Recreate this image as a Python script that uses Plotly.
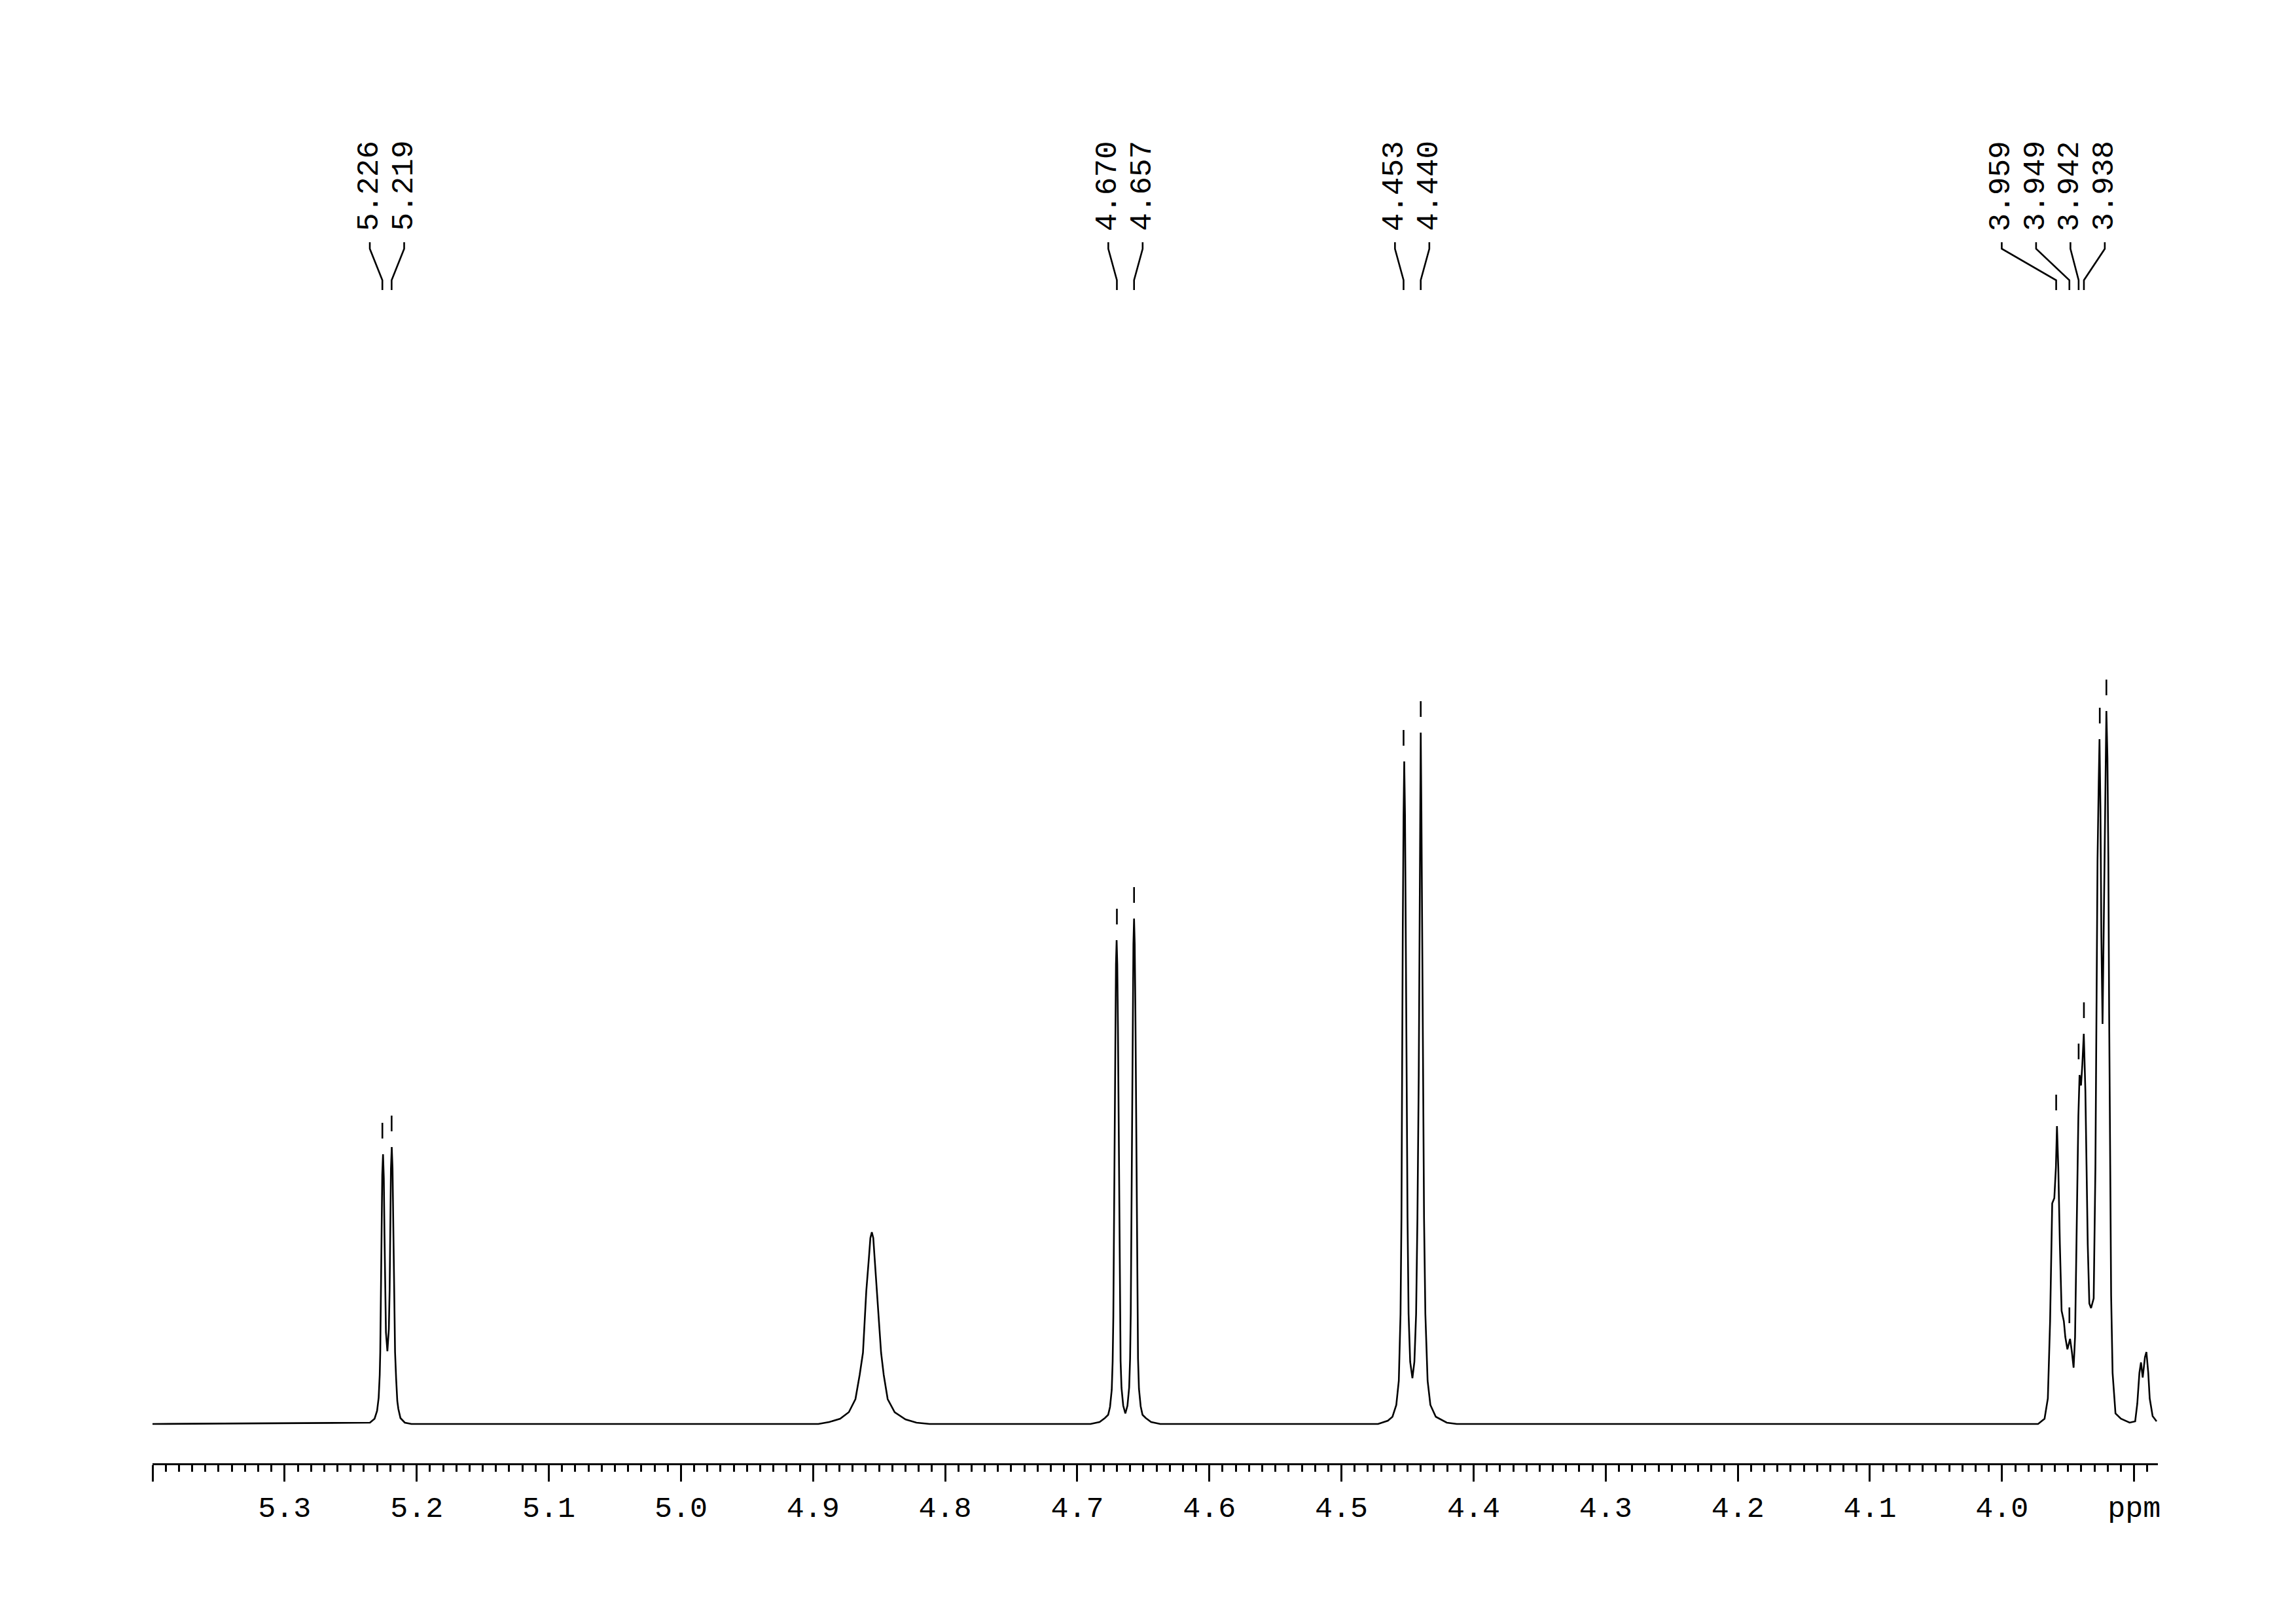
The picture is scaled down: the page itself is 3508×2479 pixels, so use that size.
import plotly.graph_objects as go

# ---------------- data ----------------
# chemical shift (ppm) and intensity (arbitrary units) of the traced spectrum
d1_ppm = [5.2354, 5.2319, 5.2300, 5.2288, 5.2280, 5.2276, 5.2271, 5.2266, 5.2261, 5.2255,
          5.2249, 5.2244, 5.2239, 5.2233, 5.2222, 5.2211, 5.2205, 5.2200, 5.2195, 5.2189,
          5.2183, 5.2177, 5.2171, 5.2164, 5.2156, 5.2147, 5.2139, 5.2123, 5.2090, 5.2040]
d1_int = [2, 8, 20, 40, 75, 110, 194, 300, 380, 412,
          375, 290, 200, 140, 111, 145, 205, 300, 390, 423,
          390, 301, 194, 110, 70, 35, 23, 9, 2, 0]

br_ppm = [4.8960, 4.8877, 4.8795, 4.8729, 4.8679, 4.8647, 4.8622, 4.8610, 4.8597, 4.8577,
          4.8566, 4.8555, 4.8544, 4.8534, 4.8518, 4.8501, 4.8485, 4.8465, 4.8435, 4.8382,
          4.8300, 4.8217, 4.8118]
br_int = [0, 3, 8, 18, 38, 75, 109, 153, 203, 254,
          284, 293, 284, 254, 203, 153, 109, 75, 38, 18,
          7, 2, 0]

d2_ppm = [4.6900, 4.6831, 4.6791, 4.6766, 4.6752, 4.6739, 4.6732, 4.6727, 4.6722, 4.6717,
          4.6712, 4.6707, 4.6702, 4.6697, 4.6692, 4.6687, 4.6682, 4.6677, 4.6672, 4.6665,
          4.6652, 4.6636, 4.6620, 4.6607, 4.6600, 4.6595, 4.6590, 4.6585, 4.6580, 4.6575,
          4.6570, 4.6565, 4.6560, 4.6555, 4.6550, 4.6545, 4.6540, 4.6533, 4.6520, 4.6506,
          4.6481, 4.6441, 4.6372]
d2_int = [0, 3, 9, 14, 26, 52, 96, 163, 296, 458,
          606, 702, 739, 702, 606, 458, 296, 163, 96, 55,
          28, 16, 28, 56, 100, 170, 309, 479, 633, 733,
          772, 733, 633, 479, 309, 170, 100, 54, 27, 14,
          9, 3, 0]

d3_ppm = [4.4723, 4.4649, 4.4614, 4.4585, 4.4566, 4.4553, 4.4546, 4.4542, 4.4536, 4.4530,
          4.4525, 4.4519, 4.4514, 4.4507, 4.4500, 4.4492, 4.4480, 4.4463, 4.4448, 4.4435,
          4.4425, 4.4415, 4.4408, 4.4403, 4.4400, 4.4395, 4.4390, 4.4383, 4.4375, 4.4365,
          4.4348, 4.4327, 4.4286, 4.4203, 4.4127]
d3_int = [0, 5, 11, 29, 66, 168, 315, 534, 754, 930,
          1012, 930, 754, 534, 315, 168, 95, 70, 95, 168,
          315, 534, 754, 937, 1056, 937, 754, 534, 315, 168,
          66, 29, 11, 2, 0]

m_ppm = [3.9793, 3.9727, 3.9678, 3.9653, 3.9636, 3.9628, 3.9620, 3.9604, 3.9592, 3.9584,
         3.9574, 3.9562, 3.9549, 3.9532, 3.9521, 3.9505, 3.9485, 3.9471, 3.9458, 3.9447,
         3.9433, 3.9422, 3.9413, 3.9402, 3.9392, 3.9381, 3.9369, 3.9361, 3.9351, 3.9339,
         3.9326, 3.9306, 3.9293, 3.9285, 3.9277, 3.9268, 3.9262, 3.9255, 3.9248, 3.9239,
         3.9229, 3.9219, 3.9210, 3.9202, 3.9195, 3.9189, 3.9182, 3.9174, 3.9163, 3.9141,
         3.9100, 3.9034, 3.8992, 3.8976, 3.8960, 3.8948, 3.8935, 3.8918, 3.8907, 3.8893,
         3.8882, 3.8860, 3.8830]
m_int = [0, 0, 8, 39, 157, 274, 337, 345, 392, 455,
         392, 274, 173, 157, 133, 114, 130, 110, 86, 133,
         314, 470, 533, 517, 549, 596, 509, 392, 274, 184,
         177, 192, 392, 627, 862, 979, 1046, 940, 744, 611,
         783, 979, 1089, 1018, 862, 627, 392, 196, 78, 16,
         8, 2, 4, 31, 78, 94, 71, 102, 110, 78,
         39, 12, 4]

start_ppm = [5.400]
start_int = [0]

# picked peaks (tick marks above the peak tops)
pick_ppm = [5.226, 5.219, 4.670, 4.657, 4.453, 4.440, 3.959, 3.949, 3.942, 3.938, 3.926, 3.921]
pick_int = [412, 423, 739, 772, 1012, 1056, 455, 130, 533, 596, 1046, 1089]

# labelled peak groups
label_groups = [[5.226, 5.219], [4.670, 4.657], [4.453, 4.440], [3.959, 3.949, 3.942, 3.938]]

# axis ticks
tick_vals = [5.4, 5.3, 5.2, 5.1, 5.0, 4.9, 4.8, 4.7, 4.6, 4.5, 4.4, 4.3, 4.2, 4.1, 4.0, 3.9]
tick_text = ["", "5.3", "5.2", "5.1", "5.0", "4.9", "4.8", "4.7", "4.6", "4.5", "4.4",
             "4.3", "4.2", "4.1", "4.0", "ppm"]

# ---------------- styles ----------------
FONT = "Liberation Mono"
LW = 2.6
label_spacing = 0.0260            # ppm between neighbouring labels
group_shift = [0.0, 0.0, 0.0, 0.0142]
label_y = 1891
conn_y = [1805, 1795, 1747, 1732]
pick_gap, pick_len = 24, 24

spec_ppm = start_ppm + d1_ppm + br_ppm + d2_ppm + d3_ppm + m_ppm
spec_int = start_int + d1_int + br_int + d2_int + d3_int + m_int

fig = go.Figure()
fig.add_trace(go.Scatter(x=spec_ppm, y=spec_int, mode="lines",
                         line=dict(color="black", width=LW), hoverinfo="skip"))

# peak-pick ticks
px, py = [], []
for p, h in zip(pick_ppm, pick_int):
    px += [p, p, None]
    py += [h + pick_gap, h + pick_gap + pick_len, None]
fig.add_trace(go.Scatter(x=px, y=py, mode="lines",
                         line=dict(color="black", width=LW), hoverinfo="skip"))

# labels and connectors
cx, cy = [], []
annotations = []
for g, shift in zip(label_groups, group_shift):
    n = len(g)
    centre = sum(g) / n + shift
    for k, p in enumerate(g):
        lx = centre + ((n - 1) / 2 - k) * label_spacing
        annotations.append(dict(x=lx, y=label_y, xref="x", yref="y", text=f"{p:.3f}",
                                textangle=-90, showarrow=False,
                                font=dict(family=FONT, size=46, color="black"),
                                xanchor="center", yanchor="middle"))
        cx += [lx, lx, p, p, None]
        cy += [conn_y[0], conn_y[1], conn_y[2], conn_y[3], None]
fig.add_trace(go.Scatter(x=cx, y=cy, mode="lines",
                         line=dict(color="black", width=LW), hoverinfo="skip"))

fig.update_layout(
    width=3508, height=2479,
    margin=dict(l=233, r=211, t=200, b=244),
    paper_bgcolor="white", plot_bgcolor="white",
    showlegend=False, hovermode=False,
    annotations=annotations,
    xaxis=dict(range=[5.4, 3.882], showgrid=False, zeroline=False,
               showline=True, linecolor="black", linewidth=3,
               ticks="outside", ticklen=25, tickwidth=3, tickcolor="black",
               tickmode="array", tickvals=tick_vals, ticktext=tick_text,
               tickfont=dict(family=FONT, size=45, color="black"),
               minor=dict(tickmode="linear", tick0=0, dtick=0.01, ticks="outside",
                          ticklen=10, tickwidth=3, tickcolor="black", showgrid=False)),
    yaxis=dict(range=[-60, 1975], visible=False, showgrid=False, zeroline=False),
)

fig.write_html("out.html", config={"displayModeBar": False},
               post_script="document.body.style.margin='0';")
